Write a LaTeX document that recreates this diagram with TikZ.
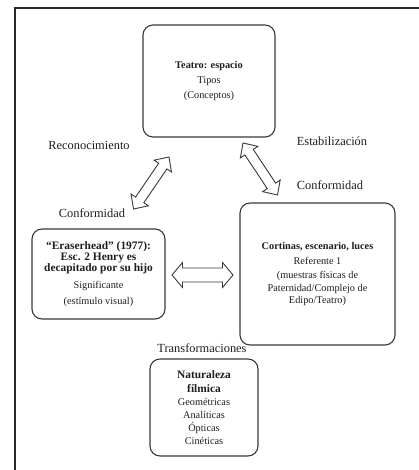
\documentclass[tikz,border=0pt]{standalone}
\usepackage{fontspec}
\setmainfont{Liberation Serif}
\usetikzlibrary{calc}
\definecolor{boxline}{HTML}{3A3A3A}
\definecolor{txt}{HTML}{1E1E1E}
\definecolor{framec}{HTML}{2A2A2A}
% #1,#2 end points; #3 head length; #4 head half width; #5 shaft half width
\newcommand\fatarrow[5]{%
  \draw[fat] (#1)
    -- ($(#1)!#3!(#2)!#4!90:(#2)$)
    -- ($(#1)!#3!(#2)!#5!90:(#2)$)
    -- ($(#2)!#3!(#1)!#5!-90:(#1)$)
    -- ($(#2)!#3!(#1)!#4!-90:(#1)$)
    -- (#2)
    -- ($(#2)!#3!(#1)!#4!90:(#1)$)
    -- ($(#2)!#3!(#1)!#5!90:(#1)$)
    -- ($(#1)!#3!(#2)!#5!-90:(#2)$)
    -- ($(#1)!#3!(#2)!#4!-90:(#2)$)
    -- cycle;}
\newcommand\bigbf[1]{{\fontsize{11.4}{12}\selectfont\bfseries #1}}
\tikzset{
  box/.style={draw=boxline, line width=1.1pt, rounded corners=10pt, fill=white,
    align=center, inner sep=0pt, text=txt, font=\fontsize{10.3}{12.3}\selectfont},
  lbl/.style={font=\fontsize{12.4}{14}\selectfont, text=txt, inner sep=0pt},
  fat/.style={draw=boxline, line width=0.9pt, fill=white, line join=miter},
}
\begin{document}
\begin{tikzpicture}[x=1pt, y=-1pt]
\useasboundingbox (0,0) rectangle (419,470);
\draw[line width=2pt, draw=framec] (15,471) -- (15,8) -- (420,8);

\node[box, minimum width=132pt, minimum height=112pt] (teatro) at (209,81)
  {\textbf{Teatro: espacio}\\[3pt] Tipos\\[3pt] (Conceptos)};
\node[box, minimum width=133pt, minimum height=90pt] (eraser) at (98.5,274)
  {\bigbf{“Eraserhead” (1977):}\\[-1pt] \bigbf{Esc. 2 Henry es}\\[-1pt] \bigbf{decapitado por su hijo}\\[4.3pt] Significante\\[3.7pt] (estímulo visual)};
\node[box, minimum width=155pt, minimum height=142pt] (cortinas) at (317.5,274)
  {\textbf{Cortinas, escenario, luces}\\[2.7pt] Referente 1\\[2pt] (muestras físicas de\\ Paternidad/Complejo de\\ Edipo/Teatro)};
\node[box, minimum width=108pt, minimum height=97pt, font=\fontsize{10.3}{13}\selectfont] (natur) at (204,407.5)
  {\bigbf{Naturaleza}\\[1pt] \bigbf{fílmica}\\ Geométricas\\ Analíticas\\ Ópticas\\ Cinéticas};

\node[lbl] (reco) at (89,145) {Reconocimiento};
\node[lbl] (estab) at (332,141) {Estabilización};
\node[lbl] (confr) at (330,185) {Conformidad};
\node[lbl] (confl) at (92,213) {Conformidad};
\node[lbl] (trans) at (202,348) {Transformaciones};

\coordinate (la) at (133.5,209);
\coordinate (lb) at (169,157);
\coordinate (ra) at (243,143);
\coordinate (rb) at (277.5,195);
\coordinate (ha) at (172,275);
\coordinate (hb) at (233,275);
\fatarrow{la}{lb}{11pt}{10.5pt}{5pt}
\fatarrow{ra}{rb}{11pt}{10.5pt}{5pt}
\fatarrow{ha}{hb}{10.5pt}{12.5pt}{7pt}
\end{tikzpicture}
\end{document}
